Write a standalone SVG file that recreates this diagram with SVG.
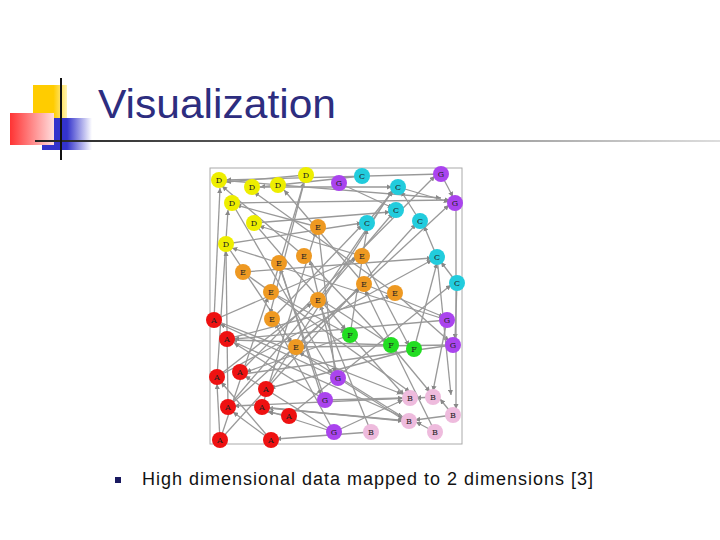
<svg xmlns="http://www.w3.org/2000/svg" width="720" height="540" viewBox="0 0 720 540">
<defs>
<linearGradient id="rg" x1="0" y1="0" x2="1" y2="0"><stop offset="0" stop-color="#f33"/><stop offset="1" stop-color="#fdd"/></linearGradient>
<linearGradient id="bg" x1="0" y1="0" x2="1" y2="0"><stop offset="0.5" stop-color="#33c"/><stop offset="1" stop-color="#fff"/></linearGradient>
<linearGradient id="yg" x1="0" y1="0" x2="1" y2="0"><stop offset="0.6" stop-color="#fc0"/><stop offset="1" stop-color="#fff3b0"/></linearGradient>
<linearGradient id="lg" x1="0" y1="0" x2="1" y2="0"><stop offset="0" stop-color="#222"/><stop offset="1" stop-color="#ddd"/></linearGradient>
<marker id="ar" viewBox="0 0 10 10" refX="10" refY="5" markerWidth="4" markerHeight="4" orient="auto"><path d="M0,0L10,5L0,10z" fill="#888"/></marker>
</defs>
<style>
.e line{stroke:#999;stroke-width:1.3;marker-end:url(#ar)}
.n circle{stroke:none}
.n text{font-family:"DejaVu Serif",serif;font-size:8px;text-anchor:middle;fill:#222}
.D{fill:#ee0}.G{fill:#a4e}.C{fill:#2cd}.E{fill:#e92}.A{fill:#e11}.F{fill:#2d2}.B{fill:#ebd}
</style>
<rect x="33" y="85" width="34" height="33" fill="url(#yg)"/>
<rect x="42" y="118" width="50" height="32" fill="url(#bg)"/>
<rect x="10" y="113" width="44" height="32" fill="url(#rg)"/>
<rect x="35" y="140" width="685" height="2" fill="url(#lg)"/>
<rect x="60" y="78" width="2" height="82" fill="#111"/>
<text x="98" y="118" font-family="Liberation Sans,Arial,sans-serif" font-size="40" fill="#2d2d7f" textLength="238" lengthAdjust="spacingAndGlyphs">Visualization</text>
<g class="e">
<rect x="210" y="168" width="252" height="276" fill="none" stroke="#aaa"/>
<line x1="306" y1="175" x2="226" y2="182"/><line x1="441" y1="174" x2="226" y2="180"/><line x1="362" y1="176" x2="260" y2="187"/>
<line x1="318" y1="227" x2="236" y2="205"/><line x1="304" y1="256" x2="222" y2="186"/><line x1="362" y1="256" x2="259" y2="226"/>
<line x1="279" y1="263" x2="232" y2="248"/><line x1="364" y1="284" x2="284" y2="190"/><line x1="395" y1="293" x2="254" y2="192"/>
<line x1="271" y1="292" x2="304" y2="182"/><line x1="214" y1="320" x2="220" y2="188"/><line x1="217" y1="377" x2="228" y2="210"/>
<line x1="228" y1="407" x2="226" y2="251"/><line x1="220" y1="440" x2="217" y2="384"/><line x1="271" y1="440" x2="233" y2="412"/>
<line x1="271" y1="440" x2="221" y2="382"/><line x1="289" y1="416" x2="268" y2="412"/><line x1="334" y1="432" x2="268" y2="411"/>
<line x1="334" y1="432" x2="245" y2="376"/><line x1="325" y1="400" x2="234" y2="343"/><line x1="338" y1="378" x2="220" y2="324"/>
<line x1="350" y1="335" x2="246" y2="372"/><line x1="391" y1="345" x2="232" y2="340"/><line x1="414" y1="349" x2="270" y2="388"/>
<line x1="447" y1="320" x2="234" y2="339"/><line x1="453" y1="345" x2="236" y2="375"/><line x1="410" y1="398" x2="234" y2="406"/>
<line x1="409" y1="421" x2="268" y2="408"/><line x1="371" y1="432" x2="276" y2="439"/><line x1="435" y1="432" x2="416" y2="422"/>
<line x1="453" y1="415" x2="440" y2="399"/><line x1="433" y1="397" x2="416" y2="398"/><line x1="453" y1="415" x2="415" y2="420"/>
<line x1="334" y1="432" x2="403" y2="400"/><line x1="325" y1="400" x2="403" y2="398"/><line x1="338" y1="378" x2="404" y2="420"/>
<line x1="350" y1="335" x2="404" y2="395"/><line x1="447" y1="320" x2="433" y2="391"/><line x1="391" y1="345" x2="430" y2="392"/>
<line x1="214" y1="320" x2="402" y2="394"/><line x1="227" y1="339" x2="403" y2="417"/><line x1="262" y1="407" x2="403" y2="421"/>
<line x1="219" y1="180" x2="441" y2="198"/><line x1="232" y1="203" x2="450" y2="200"/><line x1="252" y1="187" x2="392" y2="187"/>
<line x1="254" y1="223" x2="390" y2="212"/><line x1="226" y1="244" x2="362" y2="223"/><line x1="243" y1="272" x2="432" y2="258"/>
<line x1="217" y1="377" x2="432" y2="260"/><line x1="228" y1="407" x2="393" y2="213"/><line x1="220" y1="440" x2="416" y2="224"/>
<line x1="266" y1="389" x2="392" y2="191"/><line x1="289" y1="416" x2="451" y2="285"/><line x1="240" y1="372" x2="435" y2="176"/>
<line x1="296" y1="347" x2="449" y2="205"/><line x1="318" y1="300" x2="393" y2="190"/><line x1="272" y1="319" x2="362" y2="225"/>
<line x1="339" y1="183" x2="393" y2="208"/><line x1="441" y1="174" x2="453" y2="197"/><line x1="437" y1="257" x2="424" y2="226"/>
<line x1="457" y1="283" x2="441" y2="262"/><line x1="420" y1="221" x2="401" y2="191"/><line x1="367" y1="223" x2="393" y2="191"/>
<line x1="398" y1="187" x2="449" y2="202"/><line x1="350" y1="335" x2="367" y2="229"/><line x1="414" y1="349" x2="437" y2="263"/>
<line x1="447" y1="320" x2="274" y2="265"/><line x1="453" y1="345" x2="300" y2="347"/><line x1="391" y1="345" x2="323" y2="301"/>
<line x1="409" y1="421" x2="299" y2="352"/><line x1="435" y1="432" x2="365" y2="290"/><line x1="371" y1="432" x2="320" y2="305"/>
<line x1="325" y1="400" x2="280" y2="268"/><line x1="338" y1="378" x2="310" y2="260"/><line x1="334" y1="432" x2="275" y2="323"/>
<line x1="217" y1="377" x2="312" y2="303"/><line x1="214" y1="320" x2="357" y2="258"/><line x1="227" y1="339" x2="391" y2="296"/>
<line x1="228" y1="407" x2="360" y2="288"/><line x1="262" y1="407" x2="316" y2="231"/><line x1="220" y1="440" x2="268" y2="297"/>
<line x1="243" y1="272" x2="410" y2="392"/><line x1="271" y1="292" x2="346" y2="333"/><line x1="304" y1="256" x2="387" y2="343"/>
<line x1="362" y1="256" x2="409" y2="346"/><line x1="364" y1="284" x2="444" y2="317"/><line x1="395" y1="293" x2="449" y2="341"/>
<line x1="318" y1="227" x2="335" y2="373"/><line x1="279" y1="263" x2="321" y2="395"/><line x1="232" y1="203" x2="332" y2="374"/>
<line x1="254" y1="223" x2="346" y2="330"/><line x1="226" y1="244" x2="292" y2="343"/><line x1="306" y1="175" x2="270" y2="314"/>
<line x1="457" y1="283" x2="455" y2="339"/><line x1="437" y1="257" x2="451" y2="395"/><line x1="456" y1="210" x2="456" y2="409"/>
</g>
<g class="n">
<g id="d1"><circle cx="219" cy="180" r="8" class="D"/><text x="219" y="183">D</text></g>
<g id="d2"><circle cx="252" cy="187" r="8" class="D"/><text x="252" y="190">D</text></g>
<g id="d3"><circle cx="278" cy="185" r="8" class="D"/><text x="278" y="188">D</text></g>
<g id="d4"><circle cx="306" cy="175" r="8" class="D"/><text x="306" y="178">D</text></g>
<g id="d5"><circle cx="232" cy="203" r="8" class="D"/><text x="232" y="206">D</text></g>
<g id="d6"><circle cx="254" cy="223" r="8" class="D"/><text x="254" y="226">D</text></g>
<g id="d7"><circle cx="226" cy="244" r="8" class="D"/><text x="226" y="247">D</text></g>
<g id="g1"><circle cx="339" cy="183" r="8" class="G"/><text x="339" y="186">G</text></g>
<g id="g2"><circle cx="441" cy="174" r="8" class="G"/><text x="441" y="177">G</text></g>
<g id="g3"><circle cx="455" cy="203" r="8" class="G"/><text x="455" y="206">G</text></g>
<g id="c1"><circle cx="362" cy="176" r="8" class="C"/><text x="362" y="179">C</text></g>
<g id="c2"><circle cx="398" cy="187" r="8" class="C"/><text x="398" y="190">C</text></g>
<g id="c3"><circle cx="396" cy="210" r="8" class="C"/><text x="396" y="213">C</text></g>
<g id="c4"><circle cx="367" cy="223" r="8" class="C"/><text x="367" y="226">C</text></g>
<g id="c5"><circle cx="420" cy="221" r="8" class="C"/><text x="420" y="224">C</text></g>
<g id="c6"><circle cx="437" cy="257" r="8" class="C"/><text x="437" y="260">C</text></g>
<g id="c7"><circle cx="457" cy="283" r="8" class="C"/><text x="457" y="286">C</text></g>
<g id="e1"><circle cx="318" cy="227" r="8" class="E"/><text x="318" y="230">E</text></g>
<g id="e2"><circle cx="279" cy="263" r="8" class="E"/><text x="279" y="266">E</text></g>
<g id="e3"><circle cx="304" cy="256" r="8" class="E"/><text x="304" y="259">E</text></g>
<g id="e4"><circle cx="362" cy="256" r="8" class="E"/><text x="362" y="259">E</text></g>
<g id="e5"><circle cx="243" cy="272" r="8" class="E"/><text x="243" y="275">E</text></g>
<g id="e6"><circle cx="271" cy="292" r="8" class="E"/><text x="271" y="295">E</text></g>
<g id="e7"><circle cx="364" cy="284" r="8" class="E"/><text x="364" y="287">E</text></g>
<g id="e8"><circle cx="395" cy="293" r="8" class="E"/><text x="395" y="296">E</text></g>
<g id="e9"><circle cx="318" cy="300" r="8" class="E"/><text x="318" y="303">E</text></g>
<g id="e10"><circle cx="272" cy="319" r="8" class="E"/><text x="272" y="322">E</text></g>
<g id="e11"><circle cx="296" cy="347" r="8" class="E"/><text x="296" y="350">E</text></g>
<g id="a1"><circle cx="214" cy="320" r="8" class="A"/><text x="214" y="323">A</text></g>
<g id="a2"><circle cx="227" cy="339" r="8" class="A"/><text x="227" y="342">A</text></g>
<g id="a3"><circle cx="217" cy="377" r="8" class="A"/><text x="217" y="380">A</text></g>
<g id="a4"><circle cx="240" cy="372" r="8" class="A"/><text x="240" y="375">A</text></g>
<g id="a5"><circle cx="266" cy="389" r="8" class="A"/><text x="266" y="392">A</text></g>
<g id="a6"><circle cx="228" cy="407" r="8" class="A"/><text x="228" y="410">A</text></g>
<g id="a7"><circle cx="262" cy="407" r="8" class="A"/><text x="262" y="410">A</text></g>
<g id="a8"><circle cx="289" cy="416" r="8" class="A"/><text x="289" y="419">A</text></g>
<g id="a9"><circle cx="220" cy="440" r="8" class="A"/><text x="220" y="443">A</text></g>
<g id="a10"><circle cx="271" cy="440" r="8" class="A"/><text x="271" y="443">A</text></g>
<g id="f1"><circle cx="350" cy="335" r="8" class="F"/><text x="350" y="338">F</text></g>
<g id="f2"><circle cx="391" cy="345" r="8" class="F"/><text x="391" y="348">F</text></g>
<g id="f3"><circle cx="414" cy="349" r="8" class="F"/><text x="414" y="352">F</text></g>
<g id="g4"><circle cx="447" cy="320" r="8" class="G"/><text x="447" y="323">G</text></g>
<g id="g5"><circle cx="453" cy="345" r="8" class="G"/><text x="453" y="348">G</text></g>
<g id="g6"><circle cx="338" cy="378" r="8" class="G"/><text x="338" y="381">G</text></g>
<g id="g7"><circle cx="325" cy="400" r="8" class="G"/><text x="325" y="403">G</text></g>
<g id="g8"><circle cx="334" cy="432" r="8" class="G"/><text x="334" y="435">G</text></g>
<g id="b1"><circle cx="410" cy="398" r="8" class="B"/><text x="410" y="401">B</text></g>
<g id="b2"><circle cx="433" cy="397" r="8" class="B"/><text x="433" y="400">B</text></g>
<g id="b3"><circle cx="453" cy="415" r="8" class="B"/><text x="453" y="418">B</text></g>
<g id="b4"><circle cx="409" cy="421" r="8" class="B"/><text x="409" y="424">B</text></g>
<g id="b5"><circle cx="371" cy="432" r="8" class="B"/><text x="371" y="435">B</text></g>
<g id="b6"><circle cx="435" cy="432" r="8" class="B"/><text x="435" y="435">B</text></g>
</g>
<rect x="115" y="477" width="6" height="6" fill="#1a1a60"/>
<text x="142" y="485" font-family="Liberation Sans,Arial,sans-serif" font-size="18" fill="#111" textLength="451" lengthAdjust="spacing">High dimensional data mapped to 2 dimensions [3]</text>
</svg>
